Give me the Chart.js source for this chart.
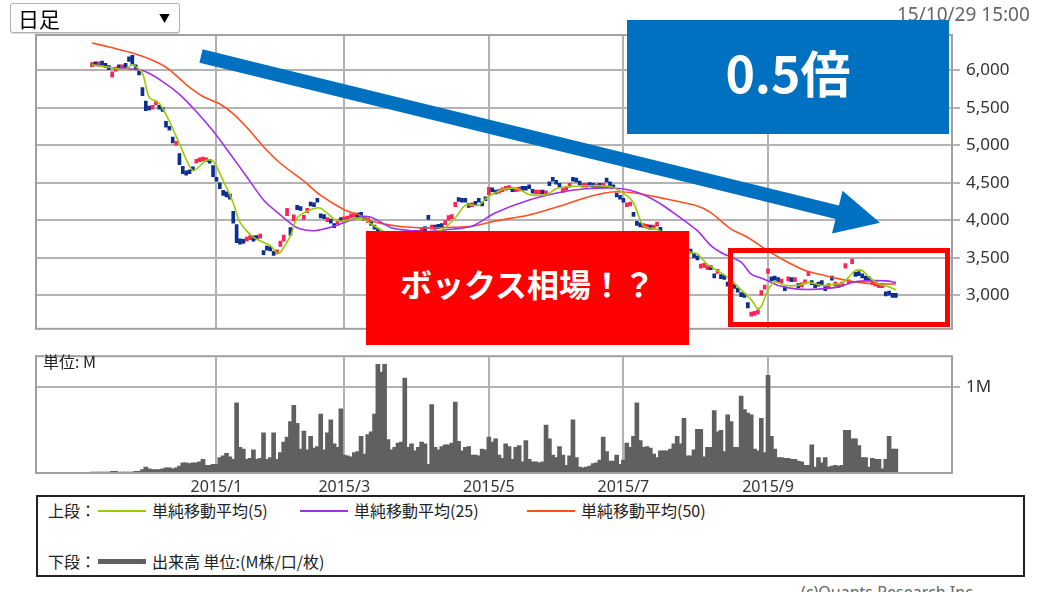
<!DOCTYPE html>
<html>
<head>
<meta charset="utf-8">
<script src="https://cdn.jsdelivr.net/npm/chart.js@4.4.1/dist/chart.umd.min.js"></script>
<style>
html,body{margin:0;padding:0;background:#fff;}
body{width:1056px;height:592px;overflow:hidden;position:relative;font-family:"Noto Sans CJK JP","Noto Sans",sans-serif;}
canvas{position:absolute;left:0;}
#price{top:0;}
#vol{top:340px;}
.abs{position:absolute;white-space:nowrap;}
#dd{left:10px;top:3px;width:170px;height:30px;box-sizing:border-box;border:1.5px solid #b0b0b0;border-radius:3px;box-shadow:0 1px 1px rgba(0,0,0,0.15);background:#fff;}
#dd .t{position:absolute;left:7px;top:0px;font-size:21px;line-height:28px;color:#000;}
#dd .a{position:absolute;left:148px;top:0px;font-size:11px;line-height:28px;color:#000;}
#ts{left:897px;top:3px;font-size:19px;line-height:22px;color:#666;font-family:"Noto Sans","DejaVu Sans",sans-serif;}
#unit{left:43px;top:352px;font-size:16px;line-height:19px;color:#222;}
#legend{left:36px;top:495px;width:989px;height:82px;box-sizing:border-box;border:2px solid #222;background:#fff;}
.lg{position:absolute;font-size:16px;line-height:19px;color:#222;}
.ln{position:absolute;height:2px;}
#copy{left:801px;top:582px;font-size:16px;line-height:20px;color:#666;font-family:"Noto Sans",sans-serif;}
#anno{position:absolute;left:0;top:0;}
#bluebox{left:627px;top:20px;width:322px;height:114px;background:#0070C0;color:#fff;font-weight:bold;font-size:50px;display:flex;align-items:center;justify-content:center;padding-bottom:12px;box-sizing:border-box;}
#redbox{left:366px;top:231px;width:323px;height:114px;background:#FF0000;color:#fff;font-weight:bold;font-size:32px;display:flex;align-items:center;justify-content:center;padding-bottom:10px;box-sizing:border-box;}
</style>
</head>
<body>
<canvas id="price" width="1056" height="345"></canvas>
<canvas id="vol" width="1056" height="160"></canvas>

<div id="dd" class="abs"><span class="t">日足</span><span class="a">▼</span></div>
<div id="ts" class="abs">15/10/29 15:00</div>
<div id="unit" class="abs">単位: M</div>

<div id="legend" class="abs">
  <div class="lg" style="left:10px;top:4px;">上段：</div>
  <div class="ln" style="left:60px;top:13px;width:48px;background:#99cc00;"></div>
  <div class="lg" style="left:114px;top:4px;">単純移動平均(5)</div>
  <div class="ln" style="left:262px;top:13px;width:48px;background:#a030f0;"></div>
  <div class="lg" style="left:316px;top:4px;">単純移動平均(25)</div>
  <div class="ln" style="left:489px;top:13px;width:48px;background:#ff4f1f;"></div>
  <div class="lg" style="left:543px;top:4px;">単純移動平均(50)</div>
  <div class="lg" style="left:10px;top:55px;">下段：</div>
  <div class="ln" style="left:60px;top:62px;width:48px;height:5px;background:#606060;"></div>
  <div class="lg" style="left:114px;top:55px;">出来高 単位:(M株/口/枚)</div>
</div>
<div id="copy" class="abs">(c)Quants Research Inc.</div>

<svg id="anno" width="1056" height="592">
  <polygon id="arrow" fill="#0070C0"></polygon>
  <rect x="730.5" y="250.5" width="217" height="74" fill="none" stroke="#FF0000" stroke-width="5"></rect>
</svg>
<div id="bluebox" class="abs">0.5倍</div>
<div id="redbox" class="abs">ボックス相場！？</div>

<script>
// ---------------- data ----------------
const tickDays   = [37, 75, 118, 158, 201];
const tickLabels = ['2015/1', '2015/3', '2015/5', '2015/7', '2015/9'];
const priceTicks = [3000, 3500, 4000, 4500, 5000, 5500, 6000];
const volumeTicks = [1];
const volumeTickLabels = ['1M'];

const opens = [
 6050,6090,6060,6110,6080,6040,5910,5990,6040,6020,
 6070,6180,6200,6060,5990,5770,5590,5500,5480,5540,
 5520,5490,5320,5250,5110,5000,4890,4720,4660,4650,
 4700,4760,4780,4790,4780,4800,4730,4560,4500,4400,
 4380,4350,4120,3940,3750,3740,3720,3740,3790,3760,
 3760,3590,3630,3620,3560,3550,3650,3720,4060,3900,
 3990,4200,4170,4010,4100,4230,4210,4270,4080,4040,
 3980,4000,3930,3950,4000,3990,4000,4030,4040,4060,
 4070,4030,3970,3960,3920,3880,3840,3790,3820,3760,
 3740,3770,3750,3790,3810,3790,3830,3810,3850,3880,
 4060,3880,3920,3910,3920,3940,4000,4020,4180,4280,
 4260,4260,4200,4180,4220,4260,4210,4280,4340,4400,
 4370,4360,4380,4400,4410,4400,4380,4390,4420,4410,
 4440,4380,4350,4350,4360,4340,4480,4540,4500,4460,
 4370,4400,4440,4540,4530,4480,4440,4440,4460,4450,
 4430,4450,4440,4530,4480,4440,4340,4310,4270,4180,
 4190,4080,3960,3930,3900,3890,3910,3880,3920,3900,
 3820,3760,3700,3680,3650,3620,3600,3590,3580,3560,
 3500,3360,3370,3340,3360,3270,3290,3250,3240,3160,
 3150,3130,3070,3010,3000,2900,2720,2730,2750,3000,
 3080,3290,3230,3230,3210,3160,3090,3190,3200,3180,
 3120,3110,3150,3260,3160,3120,3130,3160,3080,3100,
 3220,3120,3100,3120,3360,3150,3420,3280,3270,3250,
 3220,3200,3140,3120,3100,3100,3040,3020,3000,2990
];
const closes = [
 6090,6060,6100,6070,6040,6010,5980,6030,6020,6060,
 6040,6120,6080,6020,5940,5660,5460,5470,5530,5590,
 5480,5450,5240,5200,5030,5040,4740,4620,4600,4620,
 4660,4810,4820,4830,4810,4760,4580,4520,4420,4330,
 4310,4280,3960,3700,3680,3690,3770,3790,3720,3740,
 3790,3540,3600,3590,3530,3570,3720,3800,4160,3800,
 4070,4140,4130,4060,4160,4190,4180,4240,4030,4020,
 4020,3960,3900,3980,3980,4010,4020,4040,4050,4040,
 4050,4000,4000,3930,3880,3840,3800,3820,3770,3740,
 3770,3750,3790,3810,3790,3820,3810,3850,3880,3860,
 4010,3920,3880,3890,3900,3990,4060,4070,4240,4250,
 4240,4240,4170,4210,4200,4240,4190,4260,4440,4380,
 4350,4390,4410,4430,4440,4380,4400,4420,4400,4400,
 4420,4360,4370,4380,4350,4350,4460,4520,4480,4440,
 4400,4420,4460,4520,4510,4470,4460,4470,4450,4440,
 4460,4440,4460,4510,4460,4420,4310,4280,4240,4220,
 4220,4050,3930,3910,3920,3920,3880,3900,3950,3850,
 3780,3720,3680,3640,3620,3600,3580,3560,3560,3500,
 3470,3400,3410,3370,3340,3230,3310,3220,3210,3120,
 3130,3090,3040,2980,2970,2830,2760,2770,2790,3060,
 3120,3350,3190,3200,3180,3190,3060,3220,3180,3210,
 3100,3130,3170,3290,3140,3100,3120,3140,3060,3110,
 3200,3140,3120,3130,3420,3180,3480,3250,3260,3230,
 3200,3190,3160,3130,3120,3120,2990,3000,2970,2970
];
const volumes = [
 0.01,0.01,0.01,0.01,0.01,0.01,0.02,0.02,0.01,0.01,
 0.01,0.01,0.01,0.02,0.02,0.04,0.07,0.05,0.04,0.04,
 0.04,0.05,0.06,0.06,0.05,0.06,0.08,0.12,0.12,0.11,
 0.12,0.12,0.13,0.16,0.09,0.09,0.10,0.10,0.18,0.20,
 0.23,0.19,0.16,0.82,0.30,0.28,0.16,0.17,0.27,0.16,
 0.17,0.47,0.16,0.18,0.47,0.16,0.24,0.36,0.42,0.60,
 0.79,0.58,0.28,0.49,0.27,0.43,0.29,0.31,0.69,0.27,
 0.47,0.62,0.34,0.30,0.75,0.21,0.20,0.19,0.24,0.25,
 0.43,0.22,0.45,0.48,0.69,1.27,1.18,1.27,0.39,0.27,
 0.30,0.35,0.36,1.11,0.30,0.34,0.26,0.30,0.36,0.34,
 0.10,0.80,0.30,0.27,0.31,0.33,0.33,0.35,0.83,0.37,
 0.26,0.30,0.31,0.21,0.21,0.20,0.28,0.27,0.42,0.36,
 0.40,0.21,0.17,0.34,0.31,0.16,0.30,0.32,0.13,0.38,
 0.16,0.13,0.13,0.12,0.13,0.56,0.40,0.21,0.18,0.31,
 0.21,0.09,0.20,0.62,0.18,0.07,0.06,0.07,0.08,0.11,
 0.12,0.15,0.42,0.25,0.14,0.14,0.21,0.10,0.15,0.35,
 0.30,0.43,0.82,0.38,0.30,0.31,0.29,0.22,0.18,0.26,
 0.26,0.26,0.28,0.34,0.43,0.34,0.64,0.20,0.20,0.27,
 0.51,0.51,0.19,0.30,0.30,0.73,0.48,0.50,0.25,0.68,
 0.60,0.30,0.30,0.90,0.74,0.70,0.68,0.28,0.26,0.64,
 0.24,1.14,0.43,0.28,0.18,0.18,0.17,0.17,0.16,0.16,
 0.14,0.13,0.09,0.09,0.33,0.07,0.18,0.12,0.18,0.07,
 0.08,0.09,0.08,0.09,0.50,0.50,0.40,0.40,0.32,0.18,
 0.18,0.07,0.17,0.16,0.16,0.05,0.16,0.43,0.28,0.28
];

const ma5Days = [0,5,10,12,15,17,20,23,26,30,34,36,39,42,44,48,53,55,56,59,61,65,68,73,80,83,88,93,98,104,108,111,115,118,123,127,130,135,138,142,147,154,158,161,164,168,172,176,178,180,183,187,190,193,196,198,199,201,203,206,210,213,217,220,223,225,227,229,231,234,237,239];
const ma5Values = [6075,6040,6010,6075,5960,5640,5560,5320,5020,4660,4800,4790,4530,4230,3970,3770,3660,3560,3570,3790,4030,4140,4160,3990,4030,3950,3820,3780,3820,3870,4030,4200,4200,4320,4420,4410,4340,4340,4420,4450,4460,4450,4360,4230,3920,3880,3760,3640,3570,3550,3410,3300,3200,3070,2940,2820,2850,3070,3180,3130,3130,3170,3130,3140,3160,3240,3330,3330,3240,3150,3110,3070];

const ma25Days = [0,6,13,16,21,26,31,36,41,46,51,56,61,66,72,79,83,89,95,100,105,113,120,130,140,147,155,160,165,170,175,180,184,187,193,196,200,204,210,216,222,226,230,236,239];
const ma25Values = [6075,6035,6010,5980,5850,5680,5450,5190,4890,4580,4270,4070,3900,3860,3920,4030,4040,3900,3860,3850,3870,3920,4100,4270,4380,4420,4430,4400,4320,4190,4030,3860,3660,3570,3440,3280,3210,3130,3080,3080,3110,3170,3190,3190,3170];

const ma50Days = [0,6,12,19,23,28,33,38,42,46,51,56,63,68,75,80,83,91,98,103,113,120,130,140,146,152,156,162,170,180,184,190,195,201,206,212,218,224,228,234,239];
const ma50Values = [6365,6300,6230,6115,6010,5810,5650,5550,5420,5240,4980,4760,4520,4330,4140,4060,3990,3920,3900,3900,3920,3990,4070,4200,4290,4360,4380,4360,4290,4190,4100,3880,3770,3590,3460,3330,3260,3200,3170,3150,3150];

// ---------------- styling ----------------
const UP = '#ff2255', DOWN = '#0b2f91';
const GRID = '#b3b3b3';
const X_MIN = -16.65, X_MAX = 255.7;

Chart.defaults.font.family = '"Noto Sans", "DejaVu Sans", sans-serif';
Chart.defaults.color = '#333';

const frame = {
  id: 'frame',
  afterDraw(c) {
    const a = c.chartArea, ctx = c.ctx;
    ctx.save();
    ctx.strokeStyle = '#a0a0a0';
    ctx.lineWidth = 2;
    ctx.strokeRect(a.left, a.top, a.right - a.left, a.bottom - a.top);
    ctx.restore();
  }
};

const pts = (days, vals) => days.map((d, i) => ({x: d, y: vals[i]}));
const maLine = (days, vals, color, order) => ({
  type: 'line', data: pts(days, vals), borderColor: color, borderWidth: 1.6,
  pointRadius: 0, tension: 0.25, order: order, fill: false
});

new Chart(document.getElementById('price'), {
  type: 'bar',
  data: {
    datasets: [
      maLine(ma50Days, ma50Values, '#ff4f1f', 3),
      maLine(ma25Days, ma25Values, '#a030f0', 2),
      maLine(ma5Days, ma5Values, '#99cc00', 1),
      {
        type: 'bar',
        data: closes.map((c, i) => ({x: i, y: [opens[i], c]})),
        backgroundColor: closes.map((c, i) => c >= opens[i] ? UP : DOWN),
        barThickness: 3, minBarLength: 4, borderWidth: 0, order: 4
      }
    ]
  },
  options: {
    responsive: false, animation: false,
    plugins: {legend: {display: false}, tooltip: {enabled: false}},
    layout: {padding: {left: 36, top: 35, right: 0, bottom: 0}},
    scales: {
      x: {
        type: 'linear', min: X_MIN, max: X_MAX, offset: false,
        grid: {color: GRID, lineWidth: 2, drawTicks: false, offset: false},
        border: {display: false},
        ticks: {display: false},
        afterBuildTicks: s => { s.ticks = tickDays.map(v => ({value: v})); },
        afterFit: s => { s.height = 13; }
      },
      y: {
        position: 'right', min: 2551, max: 6471,
        grid: {color: GRID, lineWidth: 2, drawTicks: true, tickLength: 8},
        border: {display: false},
        ticks: {
          font: {size: 17}, color: '#333', padding: 6,
          callback: v => v.toLocaleString('en-US')
        },
        afterBuildTicks: s => { s.ticks = priceTicks.map(v => ({value: v})); },
        afterFit: s => { s.width = 104; }
      }
    }
  },
  plugins: [frame]
});

new Chart(document.getElementById('vol'), {
  type: 'bar',
  data: {
    datasets: [{
      data: volumes.map((v, i) => ({x: i, y: v})),
      backgroundColor: '#606060', barThickness: 4, borderWidth: 0
    }]
  },
  options: {
    responsive: false, animation: false,
    plugins: {legend: {display: false}, tooltip: {enabled: false}},
    layout: {padding: {left: 36, top: 9, right: 0, bottom: 0}},
    scales: {
      x: {
        type: 'linear', min: X_MIN, max: X_MAX, offset: false,
        grid: {color: GRID, lineWidth: 2, drawTicks: false, offset: false},
        border: {display: false},
        ticks: {
          font: {size: 16}, color: '#333', padding: 5, maxRotation: 0, autoSkip: false,
          callback: v => { const k = tickDays.indexOf(v); return k >= 0 ? tickLabels[k] : ''; }
        },
        afterBuildTicks: s => { s.ticks = tickDays.map(v => ({value: v})); },
        afterFit: s => { s.height = 27; }
      },
      y: {
        position: 'right', min: 0, max: 1.365,
        grid: {color: GRID, lineWidth: 2, drawTicks: true, tickLength: 8},
        border: {display: false},
        ticks: {
          font: {size: 17}, color: '#333', padding: 6,
          callback: v => { const k = volumeTicks.indexOf(v); return k >= 0 ? volumeTickLabels[k] : ''; }
        },
        afterBuildTicks: s => { s.ticks = volumeTicks.map(v => ({value: v})); },
        afterFit: s => { s.width = 104; }
      }
    }
  },
  plugins: [frame]
});

// ---------------- annotation arrow ----------------
(function () {
  const sx = 201, sy = 56, tx = 880, ty = 222.7;
  const w = 6.9, hw = 22, hl = 44;
  const len = Math.hypot(tx - sx, ty - sy), ux = (tx - sx) / len, uy = (ty - sy) / len;
  const nx = -uy, ny = ux;
  const bx = tx - ux * hl, by = ty - uy * hl;
  const p = [
    [sx + nx * w, sy + ny * w], [bx + nx * w, by + ny * w], [bx + nx * hw, by + ny * hw],
    [tx, ty], [bx - nx * hw, by - ny * hw], [bx - nx * w, by - ny * w], [sx - nx * w, sy - ny * w]
  ];
  document.getElementById('arrow').setAttribute('points', p.map(q => q[0].toFixed(1) + ',' + q[1].toFixed(1)).join(' '));
})();
</script>
</body>
</html>
